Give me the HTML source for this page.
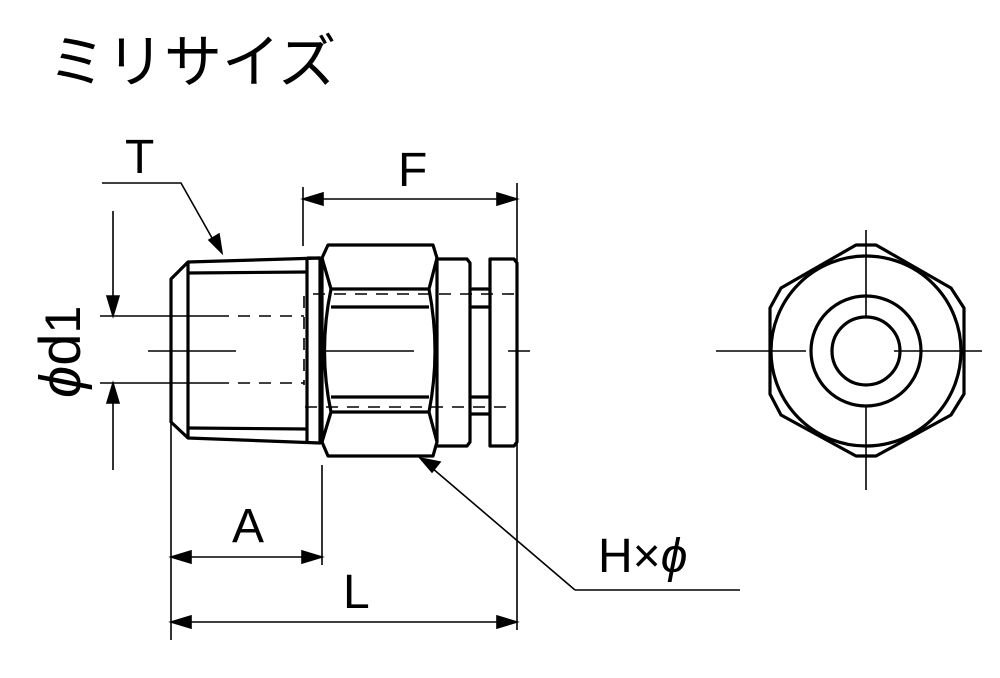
<!DOCTYPE html>
<html><head><meta charset="utf-8"><style>html,body{margin:0;padding:0;background:#fff}svg{display:block}</style></head>
<body>
<svg width="1000" height="678" viewBox="0 0 1000 678" xmlns="http://www.w3.org/2000/svg">
<text x="48" y="82" font-family="'Noto Sans CJK JP','Liberation Sans',sans-serif" font-weight="400" font-size="58" fill="#000">ミリサイズ</text>
<g font-family="'Liberation Sans','DejaVu Sans',sans-serif" fill="#000">
<text x="125" y="173" font-size="48">T</text>
<text x="398" y="186" font-size="48">F</text>
<text x="232" y="542" font-size="48">A</text>
<text x="343" y="608" font-size="48">L</text>
<text x="598" y="572" font-size="48">H×<tspan font-style="italic">ϕ</tspan></text>
<text transform="translate(80,398) rotate(-90)" font-size="58"><tspan font-style="italic">ϕ</tspan>d<tspan font-size="50">1</tspan></text>
</g>
<g stroke="#000" fill="none">
<g stroke-width="1.6">
<polyline points="102,183 181,183 216,245"/>
<line x1="113" y1="211" x2="113" y2="306"/>
<line x1="113" y1="393" x2="113" y2="470"/>
<line x1="100" y1="316" x2="217" y2="316"/>
<line x1="100" y1="383" x2="217" y2="383"/>
<line x1="148" y1="351" x2="236" y2="351"/>
<line x1="326" y1="351" x2="414" y2="351"/>
<line x1="508" y1="351" x2="530" y2="351"/>
<line x1="303" y1="187" x2="303" y2="246"/>
<line x1="517" y1="183" x2="517" y2="630"/>
<line x1="171" y1="422" x2="171" y2="640"/>
<line x1="322" y1="465" x2="322" y2="565"/>
<line x1="425" y1="462" x2="575" y2="590"/>
<line x1="575" y1="590" x2="740" y2="590"/>
<line x1="716" y1="351" x2="806" y2="351"/>
<line x1="894" y1="351" x2="982" y2="351"/>
<line x1="866" y1="230" x2="866" y2="317"/>
<line x1="866" y1="406" x2="866" y2="490"/>
</g>
<g stroke-width="1.6" stroke-dasharray="12,9">
<line x1="217" y1="316" x2="304" y2="316"/>
<line x1="217" y1="383" x2="304" y2="383"/>
<line x1="304" y1="296" x2="304" y2="385"/>
<line x1="313" y1="294" x2="517" y2="294"/>
<line x1="305" y1="407" x2="512" y2="407"/>
</g>
<g stroke-width="1.6" fill="#000">
<path d="M113,316 l-6,-20 l12,0 z"/>
<path d="M113,383 l-6,20 l12,0 z"/>
<path d="M222,253 l-13,-13 l10,-6 z"/>
<path d="M303,199 l20,-6 l0,12 z"/>
<path d="M517,199 l-20,-6 l0,12 z"/>
<path d="M171,557 l20,-6 l0,12 z"/>
<path d="M322,557 l-20,-6 l0,12 z"/>
<path d="M171,622 l20,-6 l0,12 z"/>
<path d="M517,622 l-20,-6 l0,12 z"/>
<path d="M420,458 l20,4 l-8,10 z"/>
</g>
<line x1="305" y1="199" x2="515" y2="199" stroke-width="1.6"/>
<line x1="173" y1="557" x2="320" y2="557" stroke-width="1.6"/>
<line x1="173" y1="622" x2="515" y2="622" stroke-width="1.6"/>
<g stroke-width="3.2" stroke-linejoin="round">
<polygon points="171,279 188,262 320,258 320,443 188,438 171,422"/>
<line x1="188" y1="262" x2="188" y2="438"/>
<line x1="188" y1="273" x2="307" y2="272"/>
<line x1="188" y1="428" x2="307" y2="429"/>
<line x1="307" y1="258" x2="307" y2="443"/>
<line x1="307" y1="258" x2="320" y2="258"/>
<polygon points="328,245 433,245 437,258 437,442 433,456 328,456 322,442 322,258"/>
<path d="M322,258 L331,289 Q318,351 331,412 L322,442"/>
<path d="M437,258 L429,289 Q441,351 429,412 L437,442"/>
<line x1="331" y1="289" x2="429" y2="289"/>
<line x1="331" y1="307" x2="429" y2="307"/>
<line x1="331" y1="397" x2="429" y2="397"/>
<line x1="331" y1="412" x2="429" y2="412"/>
<path d="M437,259 L467,259 L470,263 L470,442 L467,446 L437,446"/>
<line x1="470" y1="289" x2="490" y2="289"/>
<line x1="470" y1="307" x2="490" y2="307"/>
<line x1="470" y1="397" x2="490" y2="397"/>
<line x1="470" y1="414" x2="490" y2="414"/>
<path d="M490,259 L514,259 L517,263 L517,442 L514,446 L490,446 Z"/>
<polygon points="856,245 876,245 951,288 964,308 964,394 951,415 876,456 856,456 781,415 770,394 770,308 781,288"/>
<circle cx="866" cy="351" r="95"/>
<circle cx="866" cy="351" r="55"/>
<circle cx="866" cy="351" r="34"/>
</g>
</g>
</svg>
</body></html>
